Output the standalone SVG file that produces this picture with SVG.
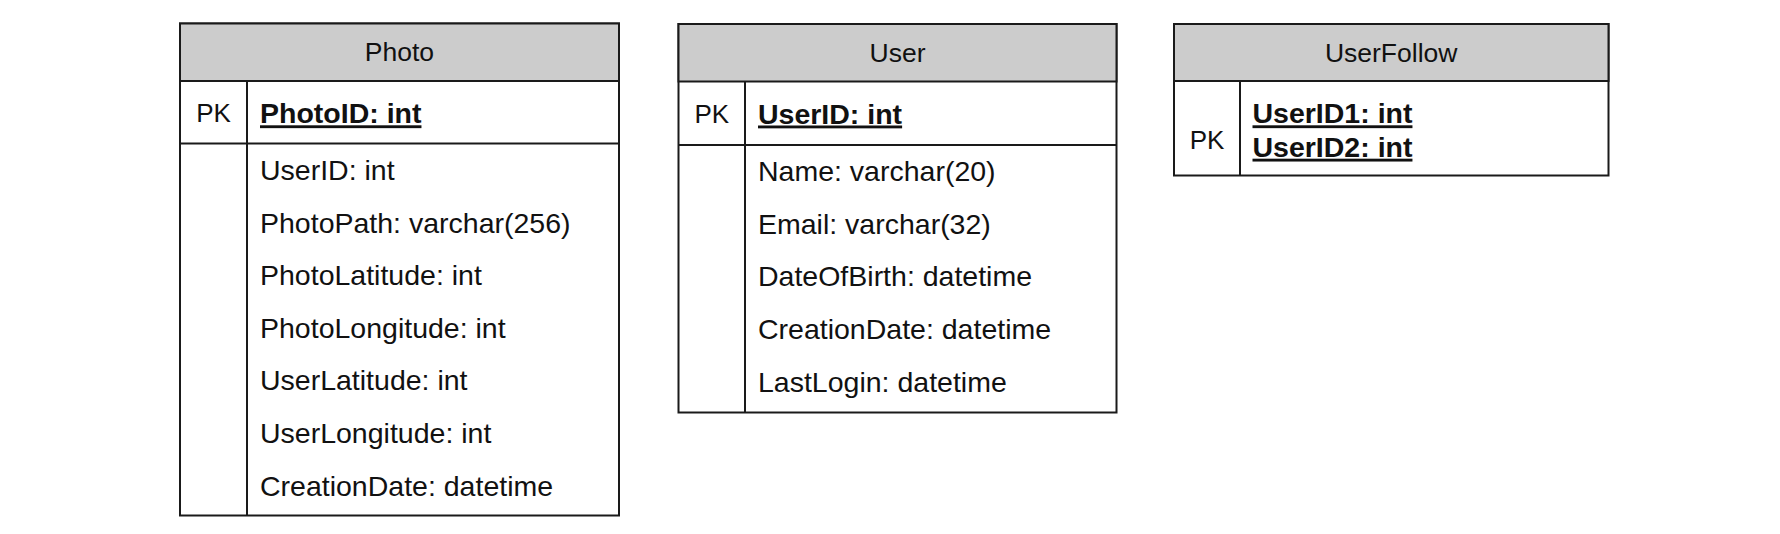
<svg xmlns="http://www.w3.org/2000/svg" width="1780" height="534" viewBox="0 0 1780 534">
<style>
.box{fill:#ffffff;stroke:#1a1a1a;stroke-width:2}
.hdr{fill:#cccccc;stroke:#1a1a1a;stroke-width:2}
.ln{stroke:#1a1a1a;stroke-width:2;fill:none}
text{font-family:"Liberation Sans",Arial,Helvetica,sans-serif;fill:#111111}
.t{font-size:26.5px;text-anchor:middle}
.pk{font-size:26px;text-anchor:middle}
.f{font-size:28.5px}
.k{font-size:28.5px;font-weight:bold;text-decoration:underline}
</style>
<rect width="1780" height="534" fill="#ffffff"/>
<g id="photo">
<rect class="box" x="180" y="23.5" width="439" height="492"/>
<rect class="hdr" x="180" y="23.5" width="439" height="57.5"/>
<line class="ln" x1="180" y1="143.5" x2="619" y2="143.5"/>
<line class="ln" x1="247" y1="81" x2="247" y2="515.5"/>
<text class="t" x="399.5" y="60.7">Photo</text>
<text class="pk" x="213.5" y="122.3">PK</text>
<text class="k" x="260" y="123.3">PhotoID: int</text>
<text class="f" x="260" y="180">UserID: int</text>
<text class="f" x="260" y="232.6">PhotoPath: varchar(256)</text>
<text class="f" x="260" y="285.2">PhotoLatitude: int</text>
<text class="f" x="260" y="337.8">PhotoLongitude: int</text>
<text class="f" x="260" y="390.4">UserLatitude: int</text>
<text class="f" x="260" y="443">UserLongitude: int</text>
<text class="f" x="260" y="495.6">CreationDate: datetime</text>
</g>
<g id="user">
<rect class="box" x="678.5" y="24" width="438" height="388.5"/>
<rect class="hdr" x="678.5" y="24" width="438" height="57.5"/>
<line class="ln" x1="678.5" y1="145" x2="1116.5" y2="145"/>
<line class="ln" x1="745" y1="81.5" x2="745" y2="412.5"/>
<text class="t" x="897.5" y="61.7">User</text>
<text class="pk" x="711.8" y="122.5">PK</text>
<text class="k" x="758" y="123.5">UserID: int</text>
<text class="f" x="758" y="181">Name: varchar(20)</text>
<text class="f" x="758" y="233.7">Email: varchar(32)</text>
<text class="f" x="758" y="286.4">DateOfBirth: datetime</text>
<text class="f" x="758" y="339.1">CreationDate: datetime</text>
<text class="f" x="758" y="391.8">LastLogin: datetime</text>
</g>
<g id="userfollow">
<rect class="box" x="1174" y="24" width="434.5" height="151.5"/>
<rect class="hdr" x="1174" y="24" width="434.5" height="57"/>
<line class="ln" x1="1240" y1="81" x2="1240" y2="175.5"/>
<text class="t" x="1391.2" y="61.7">UserFollow</text>
<text class="pk" x="1207" y="149.3">PK</text>
<text class="k" x="1252.5" y="123.3">UserID1: int</text>
<text class="k" x="1252.5" y="156.7">UserID2: int</text>
</g>
<g id="connectors"></g>
</svg>
